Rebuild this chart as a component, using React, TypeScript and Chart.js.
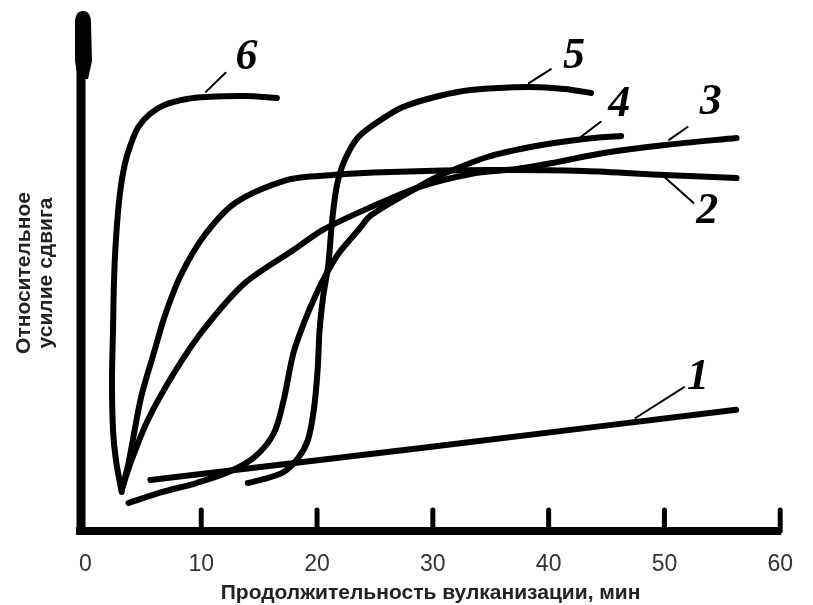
import React, { useEffect, useRef } from 'react';
import { Chart, registerables } from 'chart.js';

Chart.register(...registerables);

// ---- axis texts ----
const xTicks = [0, 10, 20, 30, 40, 50, 60];
const xTitle = 'Продолжительность вулканизации, мин';
const yTitle = ['Относительное', 'усилие сдвига'];

// ---- curves (x: minutes, y: relative units 0..100) ----
const curve1X = [5.6, 29.0, 56.2];
const curve1Y = [9.9, 16.1, 23.5];

const curve2X = [3.13, 3.72, 4.81, 5.98, 6.82, 8.16, 10.17, 12.93, 17.37, 21.31, 26.33, 34.71, 43.08, 50.03, 56.23];
const curve2Y = [7.95, 13.18, 25.97, 35.08, 41.47, 49.22, 56.98, 63.57, 68.02, 68.99, 69.57, 69.96, 69.77, 68.99, 68.41];

const curve3X = [3.13, 3.89, 5.39, 7.65, 10.17, 13.77, 17.96, 20.47, 24.66, 28.84, 33.28, 37.22, 40.31, 44.76, 50.03, 56.23];
const curve3Y = [7.95, 13.18, 21.51, 30.62, 38.95, 48.06, 54.46, 58.33, 62.79, 66.67, 69.19, 70.16, 71.32, 73.26, 74.81, 76.16];

const curve4X = [3.72, 6.65, 9.58, 12.35, 14.61, 16.28, 17.12, 17.96, 18.97, 19.89, 20.89, 21.89, 23.57, 24.66, 28.84, 30.52, 34.71, 38.89, 43.08, 46.26];
const curve4Y = [5.43, 7.56, 9.3, 11.43, 14.34, 18.99, 25.39, 34.5, 40.89, 45.74, 50.19, 53.88, 58.33, 61.2, 66.8, 68.8, 72.48, 74.61, 75.97, 76.55];

const curve5X = [14.02, 15.44, 17.12, 18.37, 19.21, 19.72, 20.05, 20.22, 20.55, 20.97, 21.31, 21.72, 22.39, 23.57, 25.49, 27.42, 30.52, 33.28, 38.31, 41.41, 43.67];
const curve5Y = [9.3, 10.08, 11.43, 14.15, 17.64, 23.45, 31.2, 38.95, 45.74, 51.55, 60.27, 67.05, 71.9, 76.36, 79.65, 82.17, 84.3, 85.47, 86.05, 85.66, 84.88];

const curve6X = [3.13, 2.63, 2.38, 2.29, 2.38, 2.46, 2.63, 2.96, 3.38, 3.89, 4.56, 5.56, 6.82, 8.74, 10.42, 13.77, 16.53];
const curve6Y = [7.56, 13.76, 19.57, 29.26, 38.95, 48.06, 56.4, 65.12, 70.93, 74.81, 78.29, 80.81, 82.56, 83.72, 84.11, 84.3, 83.91];

// ---- curve number labels and their leader lines ----
const labelText = ['1', '2', '3', '4', '5', '6'];
const labelX = [52.9, 53.7, 54.0, 46.1, 42.2, 13.9];
const labelY = [29.8, 61.8, 83.1, 82.6, 91.9, 91.7];
const leaderX0 = [47.5, 50.0, 50.4, 42.8, 38.3, 10.4];
const leaderY0 = [21.9, 68.6, 75.8, 76.4, 86.8, 85.1];
const leaderX1 = [51.7, 52.5, 52.0, 44.5, 40.2, 12.1];
const leaderY1 = [27.9, 63.6, 78.3, 79.3, 89.5, 88.8];

const allCurves = [
  [curve1X, curve1Y],
  [curve2X, curve2Y],
  [curve3X, curve3Y],
  [curve4X, curve4Y],
  [curve5X, curve5Y],
  [curve6X, curve6Y],
];

const NARROW = "'Liberation Sans Narrow', 'Arial Narrow', 'Liberation Sans', Arial, sans-serif";
const SANS = "'Liberation Sans', Arial, sans-serif";

const axesPlugin = {
  id: 'handAxes',
  afterDatasetsDraw(chart: any) {
    const { ctx, chartArea, scales } = chart;
    const xs = scales.x;
    const left = chartArea.left;
    const bottom = chartArea.bottom;
    ctx.save();
    ctx.strokeStyle = '#000';
    ctx.fillStyle = '#000';
    // x axis line
    ctx.lineWidth = 8;
    ctx.lineCap = 'butt';
    ctx.beginPath();
    ctx.moveTo(left - 5, bottom);
    ctx.lineTo(chartArea.right + 1, bottom);
    ctx.stroke();
    // y axis line
    ctx.lineWidth = 9;
    ctx.beginPath();
    ctx.moveTo(left, bottom + 4);
    ctx.lineTo(left, chartArea.top + 10);
    ctx.stroke();
    // bulb on top of y axis
    const cx = left + 2;
    const t = chartArea.top - 4;
    ctx.beginPath();
    ctx.moveTo(cx - 5, t + 68);
    ctx.lineTo(cx - 8, t + 50);
    ctx.lineTo(cx - 8, t + 12);
    ctx.quadraticCurveTo(cx - 8, t, cx, t);
    ctx.quadraticCurveTo(cx + 8, t, cx + 8, t + 12);
    ctx.lineTo(cx + 9, t + 50);
    ctx.lineTo(cx + 5, t + 68);
    ctx.closePath();
    ctx.fill();
    // tick marks pointing up
    ctx.lineWidth = 5;
    ctx.lineCap = 'round';
    xTicks.forEach((v) => {
      if (v === 0) return;
      const px = xs.getPixelForValue(v);
      ctx.beginPath();
      ctx.moveTo(px, bottom);
      ctx.lineTo(px, bottom - 21);
      ctx.stroke();
    });
    ctx.restore();
  },
};

const labelPlugin = {
  id: 'curveLabels',
  afterDatasetsDraw(chart: any) {
    const { ctx, scales } = chart;
    const xs = scales.x;
    const ys = scales.y;
    ctx.save();
    ctx.strokeStyle = '#000';
    ctx.fillStyle = '#000';
    ctx.lineWidth = 2;
    ctx.lineCap = 'round';
    labelText.forEach((txt, i) => {
      ctx.beginPath();
      ctx.moveTo(xs.getPixelForValue(leaderX0[i]), ys.getPixelForValue(leaderY0[i]));
      ctx.lineTo(xs.getPixelForValue(leaderX1[i]), ys.getPixelForValue(leaderY1[i]));
      ctx.stroke();
      ctx.font = "italic bold 44px 'Liberation Serif', 'Times New Roman', serif";
      ctx.textAlign = 'center';
      ctx.textBaseline = 'middle';
      ctx.fillText(txt, xs.getPixelForValue(labelX[i]), ys.getPixelForValue(labelY[i]));
    });
    ctx.restore();
  },
};

export default function App() {
  const canvasRef = useRef<HTMLCanvasElement | null>(null);

  useEffect(() => {
    const canvas = canvasRef.current;
    if (!canvas) return;
    const datasets = allCurves.map(([xs, ys]) => ({
      data: xs.map((x, i) => ({ x, y: ys[i] })),
      showLine: true,
      borderColor: '#000',
      backgroundColor: '#000',
      borderWidth: 6,
      pointRadius: 0,
      pointHoverRadius: 0,
      tension: 0.3,
      borderCapStyle: 'round',
      borderJoinStyle: 'round',
      clip: false,
      fill: false,
    }));
    const chart = new Chart(canvas, {
      type: 'scatter',
      data: { datasets } as any,
      options: {
        responsive: false,
        maintainAspectRatio: false,
        animation: false,
        events: [],
        layout: { padding: { top: 15, right: 11, left: 0, bottom: 0 } },
        plugins: {
          legend: { display: false },
          tooltip: { enabled: false },
        },
        scales: {
          x: {
            type: 'linear',
            min: -0.385,
            max: 60,
            grid: { display: false, drawTicks: false },
            border: { display: false },
            afterBuildTicks: (s: any) => {
              s.ticks = xTicks.map((v) => ({ value: v }));
            },
            afterFit: (s: any) => {
              s.height = 74;
            },
            ticks: {
              autoSkip: false,
              maxRotation: 0,
              padding: 20,
              color: '#333',
              font: { family: NARROW, size: 23 },
            },
            title: {
              display: true,
              text: xTitle,
              color: '#222',
              font: { family: NARROW, size: 21, weight: 'bold', lineHeight: 1 },
              padding: { top: 0, bottom: 1 },
            },
          },
          y: {
            type: 'linear',
            min: 0,
            max: 100,
            grid: { display: false, drawTicks: false },
            border: { display: false },
            ticks: { display: false },
            afterFit: (s: any) => {
              s.width = 81;
            },
            title: {
              display: true,
              text: yTitle,
              color: '#222',
              font: { family: SANS, size: 21, weight: 'bold', lineHeight: 1.05 },
              padding: { top: 13, bottom: 0 },
            },
          },
        },
      } as any,
      plugins: [axesPlugin, labelPlugin],
    });
    return () => chart.destroy();
  }, []);

  return (
    <div style={{ position: 'fixed', left: 0, top: 0, width: 813, height: 605, background: '#fff' }}>
      <canvas ref={canvasRef} width={813} height={605} style={{ display: 'block', width: 813, height: 605 }} />
    </div>
  );
}
